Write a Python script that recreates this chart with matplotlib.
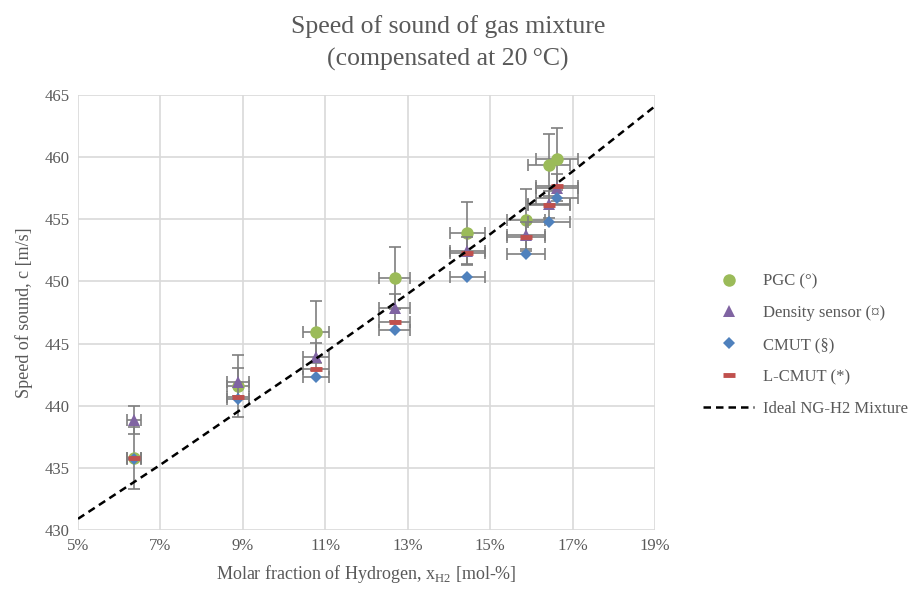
import numpy as np
import matplotlib
matplotlib.use('Agg')
import matplotlib.pyplot as plt
from matplotlib.ticker import FuncFormatter
from matplotlib.lines import Line2D

plt.rcParams['font.family'] = ['Liberation Serif', 'DejaVu Serif']

# molar fraction of H2 per measurement group
x_h2 = [0.0636, 0.0888, 0.1078, 0.1268, 0.1445, 0.1587, 0.1643, 0.1662]
x_err = [0.0018, 0.0026, 0.0032, 0.0038, 0.0043, 0.0047, 0.0050, 0.0050]

c_pgc = [435.8, 441.6, 445.9, 450.3, 453.9, 454.95, 459.4, 459.85]
c_density = [438.85, 441.9, 443.95, 447.9, 452.45, 453.7, 456.2, 457.55]
c_cmut = [435.7, 440.5, 442.3, 446.1, 450.35, 452.2, 454.8, 456.75]
c_lcmut = [435.8, 440.7, 442.95, 446.7, 452.3, 453.55, 456.15, 457.7]
err_pgc = 2.5
err_density = 1.1

# ideal NG-H2 mixture line
x_ideal = [0.05, 0.07, 0.09, 0.11, 0.13, 0.15, 0.17, 0.19]
c_ideal = [430.9, 435.25, 439.8, 444.3, 449.0, 453.8, 458.85, 464.1]

fig = plt.figure(figsize=(9.2, 5.9), dpi=100)
ax = fig.add_axes([78/920, 1-530/590, (655-78)/920, (530-95)/590])

ebar = dict(fmt='none', ecolor='#7f7f7f', elinewidth=1.2, capsize=4, capthick=1.2)
series = [
    (c_pgc, err_pgc, 'o', 9, '#9bbb59', 'PGC (°)'),
    (c_density, err_density, '^', 9, '#8064a2', 'Density sensor (¤)'),
    (c_cmut, None, 'D', 6.5, '#4f81bd', 'CMUT (§)'),
    (c_lcmut, None, '_', 9, '#c0504d', 'L-CMUT (*)'),
]
handles = []
for i, (yv, ye, mk, ms, col, lab) in enumerate(series):
    ax.errorbar(x_h2, yv, yerr=ye, xerr=x_err, zorder=3 + 2 * i, **ebar)
    mew = 3.5 if mk == '_' else 0
    ax.plot(x_h2, yv, ls='none', marker=mk, ms=ms, color=col, mew=mew,
            zorder=4 + 2 * i)
    handles.append(Line2D([], [], ls='none', marker=mk, ms=ms, color=col,
                          mew=mew, label=lab))

ax.plot(x_ideal, c_ideal, color='black', ls='--', lw=1.8, dashes=(3, 2), zorder=12)
handles.append(Line2D([], [], color='black', ls='--', lw=1.8, dashes=(3, 2),
                      label='Ideal NG-H2 Mixture'))

ax.set_xlim(0.05, 0.19)
ax.set_ylim(430, 465)
ax.set_xticks(np.arange(0.05, 0.1901, 0.02))
ax.set_yticks(np.arange(430, 465.1, 5))
ax.xaxis.set_major_formatter(FuncFormatter(lambda v, p: '%d%%' % round(v * 100)))
ax.grid(True, color='#d9d9d9', lw=1.2)
ax.set_axisbelow(True)
for s in ax.spines.values():
    s.set_visible(False)
ax.tick_params(length=0, labelsize=12, colors='#595959', pad=6)

ax.set_xlabel('Molar fraction of Hydrogen, x$_\\mathregular{H2}$ [mol-%]',
              fontsize=13, color='#595959', labelpad=6)
ax.set_ylabel('Speed of sound, c [m/s]', fontsize=13, color='#595959', labelpad=8)

fig.text(0.487, 0.974, 'Speed of sound of gas mixture\n(compensated at 20\u2009°C)',
         ha='center', va='top', fontsize=18.5, color='#595959', linespacing=1.55)

leg = fig.legend(handles=handles, loc='center left', bbox_to_anchor=(0.7475, 0.415),
                 frameon=False, fontsize=12, labelspacing=0.95, handlelength=3.1,
                 handletextpad=0.5)
for t in leg.get_texts():
    t.set_color('#595959')

fig.savefig('out.png', dpi=100)
